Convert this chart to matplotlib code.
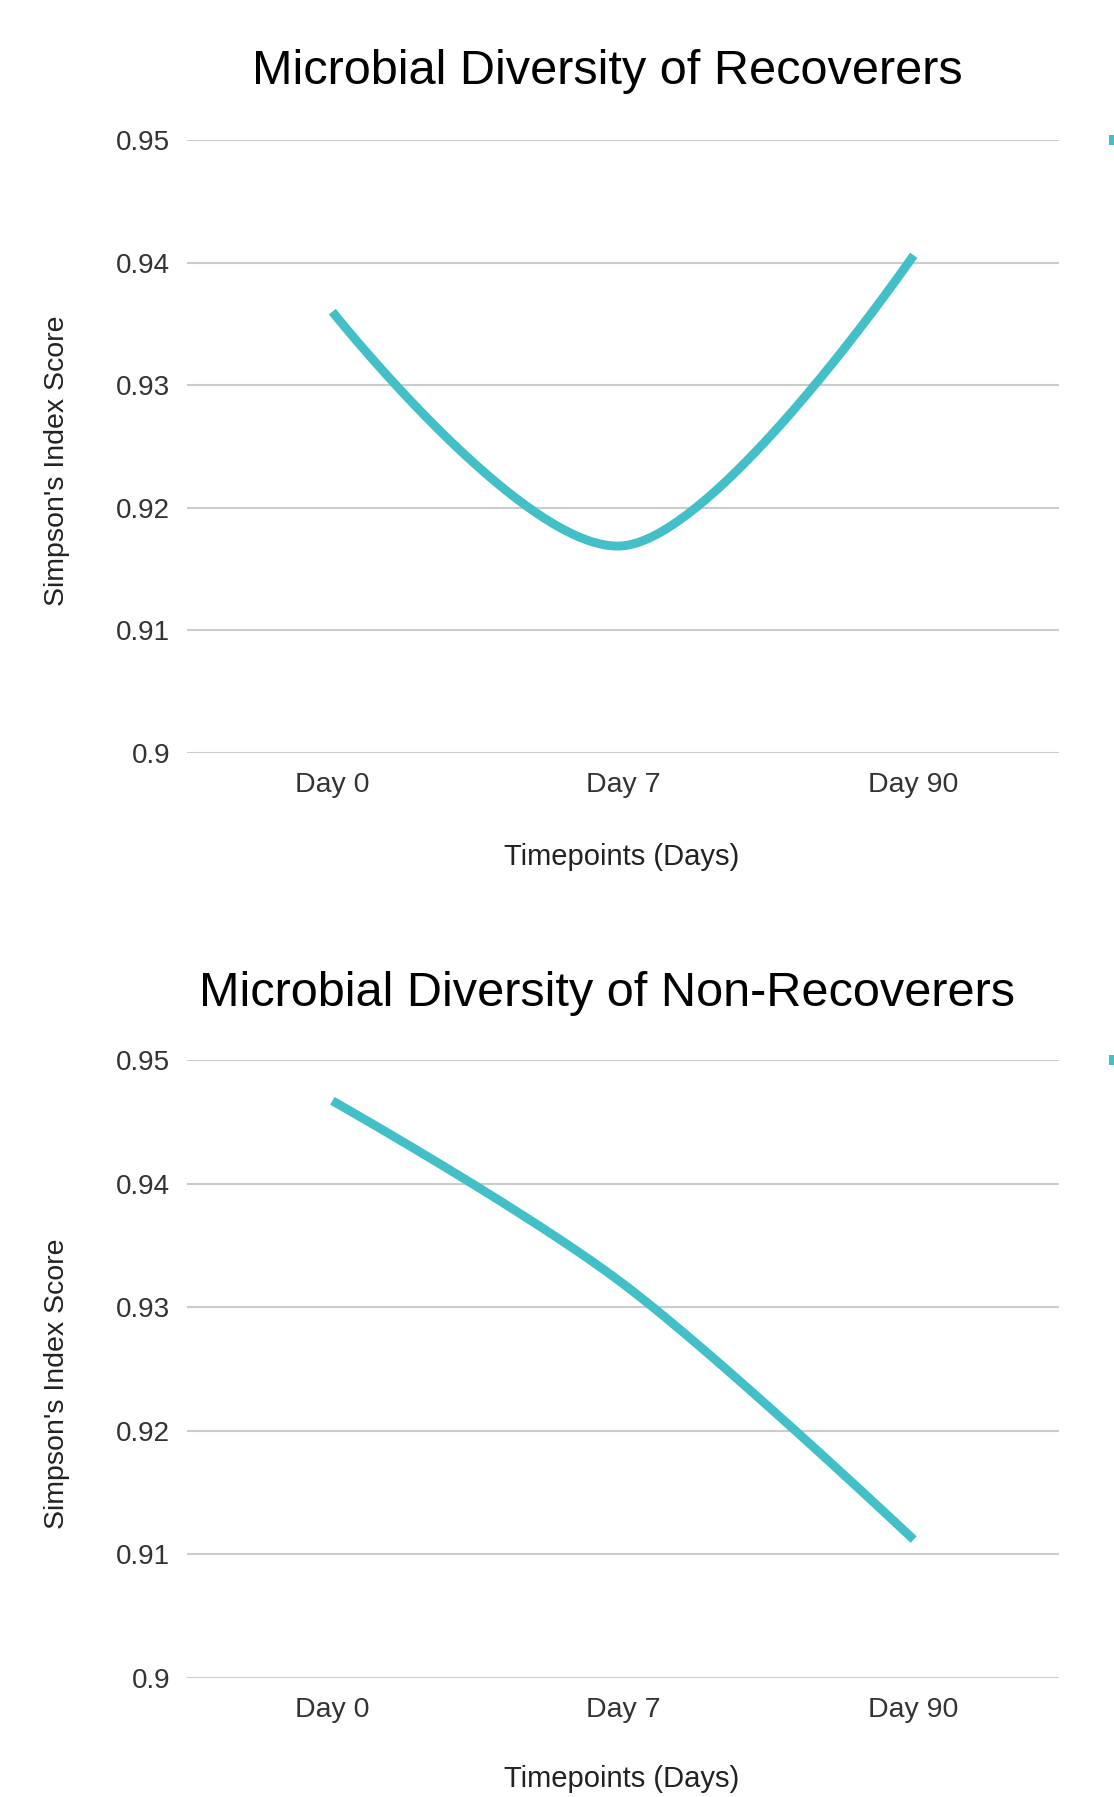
import numpy as np
import matplotlib
matplotlib.use("Agg")
import matplotlib.pyplot as plt
from matplotlib.patches import Rectangle

plt.rcParams['font.family'] = ['Liberation Sans', 'DejaVu Sans']

categories = ["Day 0", "Day 7", "Day 90"]
recoverers = [0.9360, 0.9169, 0.9406]
non_recoverers = [0.9467, 0.9319, 0.9112]
yticks = [0.9, 0.91, 0.92, 0.93, 0.94, 0.95]
ytick_labels = ["0.9", "0.91", "0.92", "0.93", "0.94", "0.95"]
titles = ["Microbial Diversity of Recoverers", "Microbial Diversity of Non-Recoverers"]
xlabel = "Timepoints (Days)"
ylabel = "Simpson's Index Score"

LINE = "#42bfc7"
GRID = "#cccccc"
TXT = "#222222"

W, H = 1114, 1797
fig = plt.figure(figsize=(W / 100, H / 100), dpi=100)
fig.patch.set_facecolor("white")


def smooth(xs, ys, s=1 / 6, n=80):
    P = np.column_stack([xs, ys]).astype(float)
    m = len(P)
    d = np.zeros_like(P)
    for i in range(1, m - 1):
        d[i] = (P[i + 1] - P[i - 1]) * s
    out = []
    t = np.linspace(0, 1, n)[:, None]
    for i in range(m - 1):
        b0, b3 = P[i], P[i + 1]
        b1 = P[i] + d[i]
        b2 = P[i + 1] - d[i + 1]
        seg = ((1 - t) ** 3) * b0 + 3 * ((1 - t) ** 2) * t * b1 + 3 * (1 - t) * t ** 2 * b2 + t ** 3 * b3
        out.append(seg if i == 0 else seg[1:])
    out = np.vstack(out)
    return out[:, 0], out[:, 1]


def fy(px):
    return 1 - px / H


panels = [
    dict(top=140, bottom=753, title_y=71, ylab_y=461, xlab_y=857, values=recoverers),
    dict(top=1060, bottom=1678, title_y=993, ylab_y=1384, xlab_y=1779, values=non_recoverers),
]

left, right = 187, 1059
for k, p in enumerate(panels):
    ax = fig.add_axes([left / W, fy(p["bottom"]), (right - left) / W, (p["bottom"] - p["top"]) / H])
    ax.set_facecolor("none")
    for s in ax.spines.values():
        s.set_visible(False)
    ax.set_xlim(-0.5, 2.5)
    ax.set_ylim(0.9, 0.95)
    for yv in yticks:
        ax.axhline(yv, color=GRID, lw=1.5, zorder=1)
    x = np.arange(len(categories))
    sx, sy = smooth(x, p["values"])
    ax.plot(sx, sy, color=LINE, lw=6.4, solid_capstyle="butt", zorder=3)
    ax.set_yticks(yticks)
    ax.set_yticklabels(ytick_labels, fontsize=20)
    ax.set_xticks(x)
    ax.set_xticklabels(categories, fontsize=20.5)
    ax.tick_params(axis="both", length=0, colors="#333333")
    ax.tick_params(axis="y", pad=12)
    ax.tick_params(axis="x", pad=14)
    fig.text(607 / W, fy(p["title_y"]), titles[k], ha="center", va="center", fontsize=35, color="#000000")
    fig.text(57 / W, fy(p["ylab_y"]), ylabel, rotation=90, ha="center", va="center", fontsize=20.5, color=TXT)
    fig.text(622 / W, fy(p["xlab_y"]), xlabel, ha="center", va="center", fontsize=21, color=TXT)
    fig.add_artist(Rectangle((1109 / W, fy(p["top"] + 5)), 5 / W, 10 / H, transform=fig.transFigure,
                             facecolor=LINE, edgecolor="none"))

fig.savefig("out.png", dpi=100, facecolor="white")
